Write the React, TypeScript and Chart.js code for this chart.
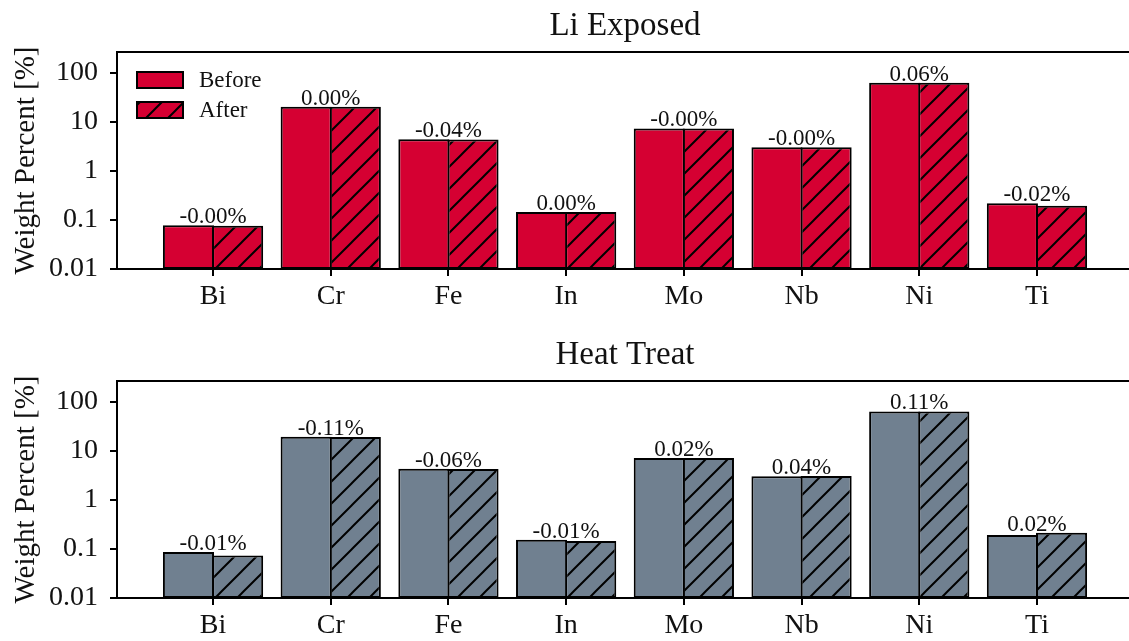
import React, { useEffect, useRef } from 'react';
import { Chart, registerables } from 'chart.js';
Chart.register(...registerables);

const categories = ['Bi', 'Cr', 'Fe', 'In', 'Mo', 'Nb', 'Ni', 'Ti'];
const seriesNames = ['Before', 'After'];
const yTickValues = [0.01, 0.1, 1, 10, 100];
const yTickLabels = ['0.01', '0.1', '1', '10', '100'];

const liBefore = [0.078, 20.5, 4.44, 0.146, 7.4, 3.08, 63.4, 0.219];
const liAfter = [0.076, 20.5, 4.40, 0.146, 7.4, 3.08, 63.4, 0.196];
const liChange = ['-0.00%', '0.00%', '-0.04%', '0.00%', '-0.00%', '-0.00%', '0.06%', '-0.02%'];

const htBefore = [0.087, 19.6, 4.37, 0.155, 7.2, 3.05, 64.6, 0.193];
const htAfter = [0.074, 19.5, 4.31, 0.146, 7.22, 3.09, 64.7, 0.216];
const htChange = ['-0.01%', '-0.11%', '-0.06%', '-0.01%', '0.02%', '0.04%', '0.11%', '0.02%'];

const FONT = '"Liberation Serif", "DejaVu Serif", serif';
const TEXT = '#111';
const RED = '#D50032';
const SLATE = '#708090';

function makeHatch(ctx: CanvasRenderingContext2D, color: string) {
  const s = 22;
  const c = document.createElement('canvas');
  c.width = s;
  c.height = s;
  const g = c.getContext('2d')!;
  g.fillStyle = color;
  g.fillRect(0, 0, s, s);
  g.strokeStyle = '#000';
  g.lineWidth = 2;
  g.beginPath();
  g.moveTo(-3, s + 3);
  g.lineTo(s + 3, -3);
  g.moveTo(-3, 3);
  g.lineTo(3, -3);
  g.moveTo(s - 3, s + 3);
  g.lineTo(s + 3, s - 3);
  g.stroke();
  return ctx.createPattern(c, 'repeat')!;
}

const decorPlugin = {
  id: 'decor',
  afterDatasetsDraw(chart: any, _args: any, o: any) {
    const { ctx, chartArea: a, scales } = chart;
    const x = scales.x;
    const y = scales.y;
    const d0 = chart.data.datasets[0].data;
    const d1 = chart.data.datasets[1].data;
    ctx.save();
    // frame
    ctx.strokeStyle = '#000';
    ctx.lineWidth = 2;
    ctx.strokeRect(a.left, a.top, a.right - a.left, a.bottom - a.top);
    // bar labels
    ctx.fillStyle = TEXT;
    ctx.font = `23px ${FONT}`;
    ctx.textAlign = 'center';
    ctx.textBaseline = 'alphabetic';
    o.labels.forEach((t: string, i: number) => {
      const v = Math.max(d0[i].y, d1[i].y);
      ctx.fillText(t, x.getPixelForValue(i), y.getPixelForValue(v) - 2);
    });
    // title
    ctx.font = `33px ${FONT}`;
    ctx.fillText(o.title, (a.left + a.right) / 2, 35);
    // legend
    if (o.legend) {
      chart.data.datasets.forEach((ds: any, i: number) => {
        const bx = a.left + 20;
        const by = a.top + 20 + i * 30;
        ctx.fillStyle = ds.backgroundColor;
        ctx.fillRect(bx, by, 46, 16);
        ctx.strokeStyle = '#000';
        ctx.lineWidth = 2;
        ctx.strokeRect(bx, by, 46, 16);
        ctx.fillStyle = TEXT;
        ctx.font = `23px ${FONT}`;
        ctx.textAlign = 'left';
        ctx.textBaseline = 'middle';
        ctx.fillText(ds.label, bx + 62, by + 9);
      });
    }
    ctx.restore();
  },
};

function makeConfig(
  ctx: CanvasRenderingContext2D,
  title: string,
  before: number[],
  after: number[],
  changes: string[],
  color: string,
  legend: boolean,
  height: number
): any {
  const tickFont = { family: FONT, size: 28 };
  return {
    type: 'bar',
    data: {
      datasets: [
        {
          label: seriesNames[0],
          data: before.map((v, i) => ({ x: i, y: v })),
          backgroundColor: color,
          borderColor: '#000',
          borderWidth: 2,
          borderSkipped: false,
        },
        {
          label: seriesNames[1],
          data: after.map((v, i) => ({ x: i, y: v })),
          backgroundColor: makeHatch(ctx, color),
          borderColor: '#000',
          borderWidth: 2,
          borderSkipped: false,
        },
      ],
    },
    options: {
      animation: false,
      responsive: false,
      devicePixelRatio: 1,
      categoryPercentage: 0.835,
      barPercentage: 1.04,
      layout: { padding: { top: 52, right: 7, left: 0, bottom: 0 } },
      plugins: {
        legend: { display: false },
        tooltip: { enabled: false },
        decor: { title, labels: changes, legend },
      },
      scales: {
        x: {
          type: 'linear',
          min: -0.816,
          max: 7.816,
          offset: false,
          afterBuildTicks: (s: any) => {
            s.ticks = categories.map((_, i) => ({ value: i }));
          },
          ticks: {
            callback: (_v: any, i: number) => categories[i],
            font: tickFont,
            color: TEXT,
            padding: 4,
            autoSkip: false,
            maxRotation: 0,
          },
          grid: { drawOnChartArea: false, offset: false, tickLength: 7, color: '#000', lineWidth: 2 },
          border: { display: false },
          afterFit: (s: any) => {
            s.height = height - 269;
          },
        },
        y: {
          type: 'logarithmic',
          min: 0.01,
          max: 270,
          afterBuildTicks: (s: any) => {
            s.ticks = yTickValues.map((v) => ({ value: v }));
          },
          ticks: {
            callback: (_v: any, i: number) => yTickLabels[i],
            font: tickFont,
            color: TEXT,
            padding: 12,
            autoSkip: false,
          },
          grid: { drawOnChartArea: false, tickLength: 7, color: '#000', lineWidth: 2 },
          border: { display: false },
          title: {
            display: true,
            text: 'Weight Percent [%]',
            font: { family: FONT, size: 29 },
            color: TEXT,
            padding: { top: 9, bottom: 0 },
          },
          afterFit: (s: any) => {
            s.width = 117;
          },
        },
      },
    },
    plugins: [decorPlugin],
  };
}

export default function App() {
  const topRef = useRef<HTMLCanvasElement>(null);
  const botRef = useRef<HTMLCanvasElement>(null);

  useEffect(() => {
    const c1 = topRef.current!;
    const c2 = botRef.current!;
    const ch1 = new Chart(
      c1,
      makeConfig(c1.getContext('2d')!, 'Li Exposed', liBefore, liAfter, liChange, RED, true, 320)
    );
    const ch2 = new Chart(
      c2,
      makeConfig(c2.getContext('2d')!, 'Heat Treat', htBefore, htAfter, htChange, SLATE, false, 312)
    );
    return () => {
      ch1.destroy();
      ch2.destroy();
    };
  }, []);

  return (
    <div
      style={{
        position: 'fixed',
        left: 0,
        top: 0,
        width: 1129,
        height: 641,
        overflow: 'hidden',
        background: '#fff',
      }}
    >
      <canvas
        ref={topRef}
        width={1140}
        height={320}
        style={{ position: 'absolute', left: 0, top: 0, width: 1140, height: 320 }}
      />
      <canvas
        ref={botRef}
        width={1140}
        height={312}
        style={{ position: 'absolute', left: 0, top: 329, width: 1140, height: 312 }}
      />
    </div>
  );
}
